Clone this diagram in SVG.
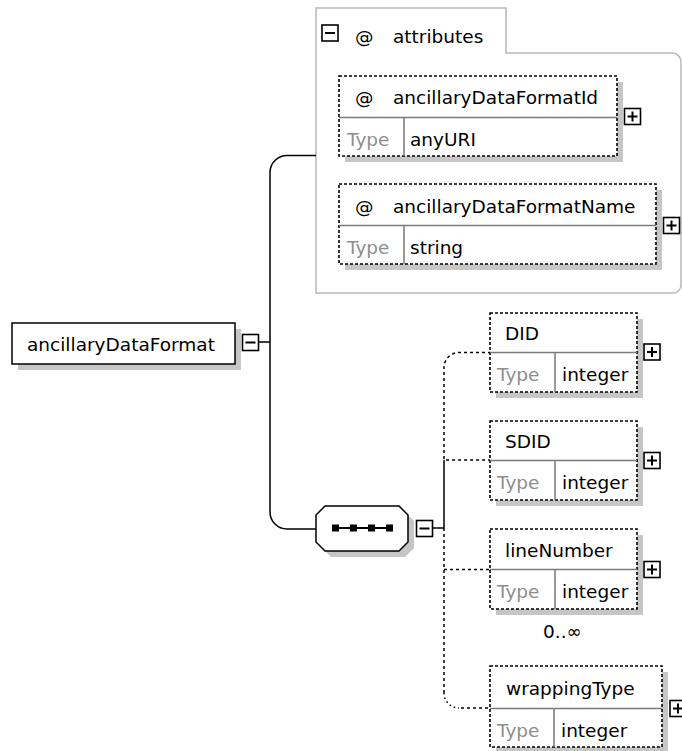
<svg xmlns="http://www.w3.org/2000/svg" width="682" height="751" viewBox="0 0 682 751">
  <style>
    .t{font-family:"DejaVu Sans",Verdana,sans-serif;font-size:18.5px;fill:#000}
    .g{fill:#8e8e8e}
    .shadow{fill:#c6c6c6}
    .solid{fill:#fff;stroke:#000;stroke-width:1.5}
    .dash{fill:#fff;stroke:#000;stroke-width:1.6;stroke-dasharray:3 2}
    .div{stroke:#7a7a7a;stroke-width:1.5;fill:none}
    .icon{fill:#fff;stroke:#000;stroke-width:1.6}
    .glyph{stroke:#000;stroke-width:2;fill:none}
    .wire{fill:none;stroke:#000;stroke-width:1.5}
    .wire-d{fill:none;stroke:#000;stroke-width:1.5;stroke-dasharray:3 3}
    .wire-o{fill:none;stroke:#000;stroke-width:1.5;stroke-dasharray:1.5 3}
    .group{fill:#fff;stroke:#b8b8b8;stroke-width:1.5}
  </style>
  <defs>
    <g id="ico-plus">
      <rect x="-8" y="-8" width="16" height="16" class="icon"/>
      <path d="M-5,0H5M0,-5V5" class="glyph"/>
    </g>
    <g id="ico-minus">
      <rect x="-8" y="-8" width="16" height="16" class="icon"/>
      <path d="M-5,0H5" class="glyph"/>
    </g>
  </defs>

  <rect width="682" height="751" fill="#fff"/>

  <!-- attribute group frame -->
  <g id="attributes">
    <path class="group" d="M316,8 H506 V53 H672 A9,9 0 0 1 681,62 V285 A8,8 0 0 1 673,293 H316 Z"/>
    <use href="#ico-minus" x="330" y="33"/>
    <text class="t" x="355" y="43">@</text>
    <text class="t" x="393" y="43">attributes</text>
  </g>

  <!-- connectors -->
  <g id="connectors">
    <path class="wire" d="M258,342 H270"/>
    <path class="wire" d="M316,155.5 H287 A17,17 0 0 0 270,172.5 V512 A17,17 0 0 0 287,529 H316"/>
    <path class="wire" d="M432,528 H444"/>
    <path class="wire" d="M444,460 V528"/>
    <path class="wire-d" d="M491,352.5 H459 A15,15 0 0 0 444,367.5 V460 H491"/>
    <path class="wire-d" d="M444,528 V693"/>
    <path class="wire-d" d="M444,569.5 H491"/>
    <path class="wire-o" d="M444,693 A15,15 0 0 0 459,708"/>
    <path class="wire-d" d="M461,708 H491"/>
  </g>

  <!-- root element -->
  <g id="ancillaryDataFormat">
    <rect class="shadow" x="18" y="329" width="223" height="41"/>
    <rect class="solid" x="12" y="323" width="223" height="41"/>
    <text class="t" x="27" y="351">ancillaryDataFormat</text>
    <use href="#ico-minus" x="250.5" y="342.5"/>
  </g>

  <!-- attribute: ancillaryDataFormatId -->
  <g id="attr-ancillaryDataFormatId">
    <rect class="shadow" x="345" y="82" width="278" height="80"/>
    <rect class="dash" x="339" y="76" width="278" height="80"/>
    <path class="div" d="M339,117.5 H617 M404,117.5 V156"/>
    <text class="t" x="355" y="104">@</text>
    <text class="t" x="393" y="104">ancillaryDataFormatId</text>
    <text class="t g" x="347" y="146">Type</text>
    <text class="t" x="410" y="146">anyURI</text>
    <use href="#ico-plus" x="632.5" y="116.5"/>
  </g>

  <!-- attribute: ancillaryDataFormatName -->
  <g id="attr-ancillaryDataFormatName">
    <rect class="shadow" x="345" y="190" width="317" height="80"/>
    <rect class="dash" x="339" y="184" width="317" height="80"/>
    <path class="div" d="M339,225.5 H656 M404,225.5 V264"/>
    <text class="t" x="355" y="213">@</text>
    <text class="t" x="393" y="213">ancillaryDataFormatName</text>
    <text class="t g" x="347" y="254">Type</text>
    <text class="t" x="410" y="254">string</text>
    <use href="#ico-plus" x="671.5" y="225.5"/>
  </g>

  <!-- sequence compositor -->
  <g id="sequence">
    <polygon class="shadow" points="331,512 405,512 414,521 414,548 405,557 331,557 322,548 322,521"/>
    <polygon class="solid" points="325,506 399,506 408,515 408,542 399,551 325,551 316,542 316,515"/>
    <path d="M335,528 H389" stroke="#000" stroke-width="2"/>
    <rect x="332" y="524.5" width="7" height="7" fill="#000"/>
    <rect x="350" y="524.5" width="7" height="7" fill="#000"/>
    <rect x="368" y="524.5" width="7" height="7" fill="#000"/>
    <rect x="386" y="524.5" width="7" height="7" fill="#000"/>
    <use href="#ico-minus" x="424.5" y="528.5"/>
  </g>

  <!-- element: DID -->
  <g id="DID">
    <rect class="shadow" x="496" y="319" width="147" height="79"/>
    <rect class="dash" x="490" y="313" width="147" height="79"/>
    <path class="div" d="M490,352.5 H637 M555,352.5 V392"/>
    <text class="t" x="505" y="340">DID</text>
    <text class="t g" x="497" y="381">Type</text>
    <text class="t" x="562" y="381">integer</text>
    <use href="#ico-plus" x="652" y="352"/>
  </g>

  <!-- element: SDID -->
  <g id="SDID">
    <rect class="shadow" x="496" y="427" width="147" height="79"/>
    <rect class="dash" x="490" y="421" width="147" height="79"/>
    <path class="div" d="M490,460.5 H637 M555,460.5 V500"/>
    <text class="t" x="505" y="448">SDID</text>
    <text class="t g" x="497" y="489">Type</text>
    <text class="t" x="562" y="489">integer</text>
    <use href="#ico-plus" x="652" y="460.5"/>
  </g>

  <!-- element: lineNumber -->
  <g id="lineNumber">
    <rect class="shadow" x="496" y="535" width="147" height="80"/>
    <rect class="dash" x="490" y="529" width="147" height="80"/>
    <path class="div" d="M490,569.5 H637 M555,569.5 V609"/>
    <text class="t" x="505" y="557">lineNumber</text>
    <text class="t g" x="497" y="598">Type</text>
    <text class="t" x="562" y="598">integer</text>
    <use href="#ico-plus" x="652" y="569.5"/>
    <text class="t" x="543" y="638" fill="#333">0..∞</text>
  </g>

  <!-- element: wrappingType -->
  <g id="wrappingType">
    <rect class="shadow" x="496" y="672" width="172" height="81"/>
    <rect class="dash" x="490" y="666" width="172" height="81"/>
    <path class="div" d="M490,708.5 H662 M554,708.5 V747"/>
    <text class="t" x="506" y="695">wrappingType</text>
    <text class="t g" x="497" y="737">Type</text>
    <text class="t" x="561" y="737">integer</text>
    <use href="#ico-plus" x="678" y="708.5"/>
  </g>
</svg>
